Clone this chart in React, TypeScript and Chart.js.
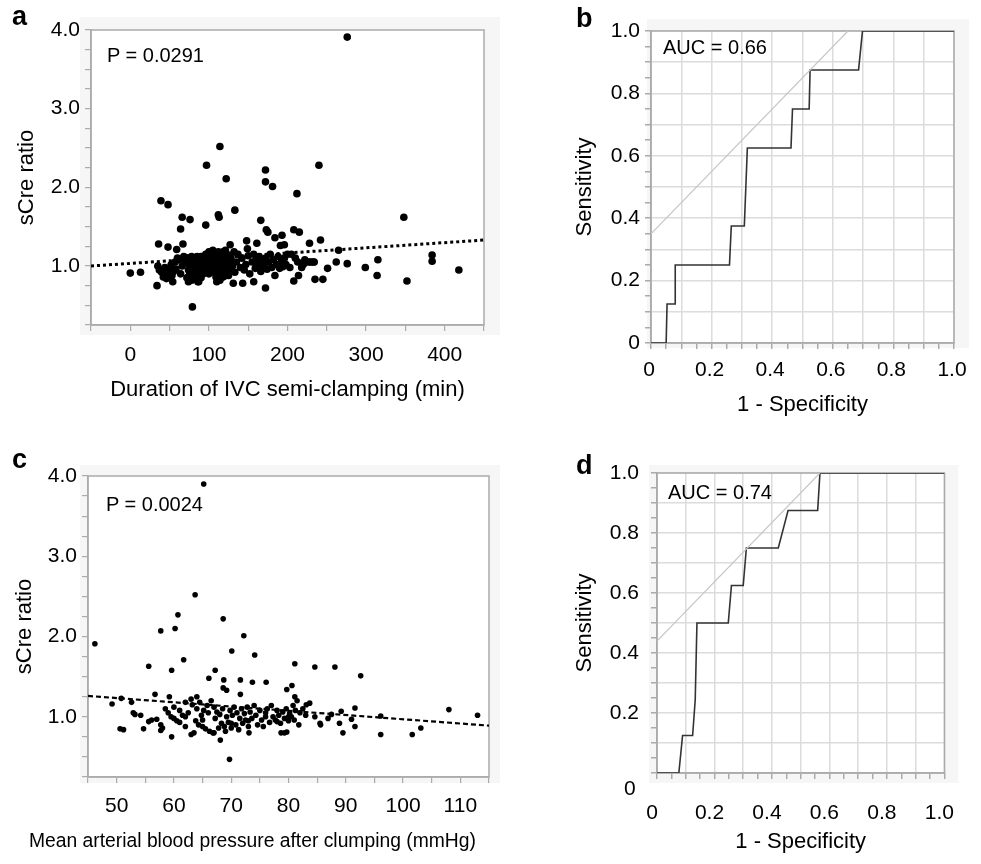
import React, { useEffect, useRef } from "react";
import { Chart, registerables } from "chart.js";

Chart.register(...registerables);

const FONT = '"Liberation Sans", Arial, Helvetica, sans-serif';
const AXIS_GRAY = "#ababab";
const GRID_GRAY = "#dcdcdc";
const PANEL_BG = "#f6f6f6";

// ---------- Panel a: duration of IVC semi-clamping vs sCre ratio ----------
const durationMin = [
  276, 114, 97, 122, 172, 172, 181, 240, 212, 39,
  48, 133, 66, 76, 112, 113, 348, 64, 96, 166,
  173, 175, 193, 184, 208, 215, 148, 242, 36, 48,
  67, 127, 149, 161, 196, 228, 265, 384, 384, 315,
  276, 299, 251, 262, 418, 352, 314, 0, 13, 34,
  79, 172, 131, 143, 157, 235, 245, 208, 214, 54,
  74, 86, 110, 59, 191, 228, 234,
  35, 37, 40, 42, 44, 46, 48, 50, 52, 53,
  55, 57, 58, 60, 62, 64, 66, 68, 70, 72,
  73, 74, 75, 76, 77, 78, 79, 80, 81, 82,
  83, 84, 85, 86, 87, 88, 89, 90, 92, 93,
  94, 95, 96, 97, 98, 99, 100, 101, 102, 103,
  104, 105, 106, 107, 108, 109, 110, 111, 112, 113,
  114, 115, 116, 117, 118, 119, 120, 121, 122, 124,
  125, 126, 128, 130, 132, 133, 135, 137, 140, 142,
  145, 147, 150, 152, 155, 157, 159, 160, 162, 164,
  166, 168, 170, 172, 174, 176, 178, 180, 182, 184,
  186, 188, 190, 192, 194, 196, 198, 200, 203, 205,
  210, 213, 218, 220, 222, 225, 230, 233,
  72, 75, 78, 80, 83, 85, 88, 90, 92, 95,
  98, 100, 103, 105, 108, 110, 112, 114, 116, 118,
  120, 123, 125, 128, 75, 80, 85, 90,
];
const sCreRatioA = [
  3.91, 2.52, 2.28, 2.11, 2.22, 2.07, 2.01, 2.28, 1.92, 1.83,
  1.78, 1.71, 1.62, 1.59, 1.65, 1.62, 1.62, 1.47, 1.52, 1.58,
  1.46, 1.43, 1.39, 1.36, 1.46, 1.43, 1.32, 1.33, 1.28, 1.24,
  1.28, 1.27, 1.22, 1.29, 1.27, 1.29, 1.2, 1.14, 1.06, 1.08,
  1.03, 0.98, 0.97, 1.05, 0.95, 0.81, 0.88, 0.91, 0.92, 0.75,
  0.48, 0.72, 0.78, 0.78, 0.8, 0.83, 0.83, 0.81, 0.88, 0.8,
  0.8, 0.8, 0.8, 1.21, 1.26, 1.05, 1.05,
  1.0, 0.95, 0.92, 0.86, 0.98, 0.84, 0.9, 0.95, 1.02, 0.88,
  0.93, 1.05, 0.96, 1.1, 1.08, 0.9, 1.0, 1.12, 1.06, 0.85,
  1.1, 0.95, 1.02, 1.08, 0.9, 0.82, 1.0, 1.05, 0.92, 1.1,
  0.86, 0.98, 1.03, 0.88, 0.8, 1.08, 0.95, 1.0, 1.12, 0.9,
  1.05, 0.97, 1.15, 1.08, 0.93, 1.02, 1.18, 0.98, 1.1, 0.92,
  1.05, 1.2, 0.96, 1.13, 1.0, 0.86, 1.08, 1.16, 0.95, 1.04,
  0.82, 1.12, 0.9, 1.0, 1.18, 0.94, 1.06, 1.2, 0.88, 1.02,
  1.14, 0.96, 1.1, 1.0, 1.18, 0.92, 1.05, 1.15, 0.98, 1.1,
  0.95, 1.02, 1.13, 0.9, 1.05, 1.15, 0.97, 1.08, 1.0, 1.12,
  0.93, 1.05, 1.0, 1.1, 0.96, 1.05, 1.15, 0.98, 1.08, 0.88,
  1.02, 1.12, 0.97, 1.05, 0.99, 1.1, 1.02, 1.15, 0.98, 1.15,
  1.1, 1.05, 0.98, 1.02, 1.08, 1.05, 1.05, 1.05,
  1.1, 0.88, 1.12, 0.85, 1.05, 0.92, 0.84, 1.12, 0.96, 1.05,
  1.12, 0.9, 1.15, 1.0, 1.1, 0.92, 1.18, 1.06, 1.15, 0.86,
  0.97, 1.1, 0.88, 1.02, 1.05, 0.96, 1.12, 0.85,
];
const trendAX = [-50, 450];
const trendAY = [1.0, 1.33];

// ---------- Panel c: MAP after clamping vs sCre ratio ----------
const mapMmHg = [
  65.2, 46.2, 63.7, 60.7, 68.6, 57.7, 60.2, 72.2, 70.1, 74.1,
  61.7, 55.6, 59.6, 67.2, 81.1, 84.6, 88.1, 92.6, 66.1, 68.7,
  71.6, 73.7, 76.1, 68.6, 69.2, 79.7, 80.6, 71.6, 56.7, 59.2,
  81.1, 49.2, 50.8, 52.6, 50.6, 51.2, 54.7, 52.9, 53.2, 54.2,
  55.6, 56.1, 57.7, 57.7, 59.6, 68.1, 69.7, 73.1, 96.1, 96.1,
  101.6, 103.1, 108, 113, 89.5, 91.6, 91.6, 89.2, 88.9, 91,
  86.9, 87.5, 85.5, 85.6, 84.6, 83.7, 83.1, 78.7, 79.3, 79.7,
  59, 59.5, 60, 60.5, 61, 61, 61.5, 62, 62, 62.5,
  63, 63, 63.2, 63.5, 63.8, 64, 64, 64.3, 64.5, 64.8,
  65, 65.2, 65.5, 65.8, 66, 66.2, 66.5, 66.8, 67, 67.2,
  67.5, 67.8, 68, 68.3, 68.5, 68.8, 69, 69.2, 69.5, 69.8,
  70, 70.2, 70.5, 70.8, 71, 71.3, 71.5, 71.8, 72, 72.3,
  72.5, 72.8, 73, 73.3, 73.6, 74, 74.3, 74.6, 75, 75.3,
  75.6, 76, 76.3, 76.7, 77, 77.3, 77.7, 78, 78.3, 78.6,
  79, 79.3, 79.6, 80, 80.2, 80.5, 80.8, 81, 81.2, 81.5,
  81.8, 82, 82.5, 83, 57, 58, 58.5, 60, 62, 65,
  67, 70, 73, 76, 78, 80,
];
const sCreRatioC = [
  3.9, 1.91, 2.52, 2.27, 2.22, 2.07, 2.1, 2.01, 1.82, 1.77,
  1.71, 1.63, 1.58, 1.58, 1.66, 1.62, 1.62, 1.51, 1.48, 1.46,
  1.46, 1.43, 1.43, 1.36, 1.33, 1.34, 1.39, 1.28, 1.28, 1.25,
  1.25, 1.16, 1.23, 1.18, 0.85, 0.84, 0.85, 1.05, 1.03, 1.02,
  0.94, 0.96, 0.9, 0.83, 0.75, 0.71, 0.47, 0.8, 1.01, 0.78,
  0.78, 0.86, 1.09, 1.02, 0.8, 1.11, 0.88, 1.07, 0.92, 0.97,
  0.98, 1.03, 0.92, 0.9, 1.0, 1.17, 1.15, 0.8, 0.8, 0.81,
  1.05, 1.0, 1.12, 0.95, 1.08, 0.93, 1.02, 1.18, 0.88, 1.05,
  0.78, 1.22, 1.15, 0.8, 0.95, 1.25, 1.1, 0.9, 1.18, 1.02,
  0.88, 1.08, 0.85, 1.14, 1.05, 0.82, 1.2, 0.8, 1.12, 0.98,
  1.06, 0.86, 1.03, 0.92, 1.1, 0.88, 0.82, 1.0, 0.93, 1.08,
  0.86, 1.02, 1.12, 0.9, 1.05, 0.84, 0.98, 1.1, 0.92, 1.04,
  0.96, 1.12, 0.88, 1.06, 0.98, 1.14, 1.02, 0.9, 1.08, 0.96,
  0.88, 1.05, 1.1, 0.93, 1.14, 1.0, 0.96, 1.08, 1.02, 0.92,
  1.06, 0.98, 1.1, 0.95, 1.04, 1.0, 1.14, 0.96, 1.08, 1.2,
  0.9, 1.05, 1.1, 1.02, 0.97, 0.86, 1.1, 0.98, 1.0, 0.96,
  0.8, 0.92, 0.95, 1.0, 0.94, 1.0,
];
const trendCX = [45, 115];
const trendCY = [1.26, 0.89];

// ---------- Panel b: ROC (AUC 0.66) ----------
const rocBFpr = [0, 0.05, 0.053, 0.08, 0.08, 0.259, 0.265, 0.308, 0.318, 0.462, 0.467, 0.522, 0.525, 0.685, 0.698, 1.0];
const rocBTpr = [0, 0, 0.125, 0.125, 0.25, 0.25, 0.375, 0.375, 0.625, 0.625, 0.75, 0.75, 0.875, 0.875, 1.0, 1.0];
const tangentBX = [0, 0.65];
const tangentBY = [0.35, 1.0];

// ---------- Panel d: ROC (AUC 0.74) ----------
const rocDFpr = [0, 0.076, 0.089, 0.124, 0.133, 0.139, 0.248, 0.259, 0.3, 0.311, 0.422, 0.456, 0.559, 0.567, 1.0];
const rocDTpr = [0, 0, 0.125, 0.125, 0.244, 0.5, 0.5, 0.625, 0.625, 0.75, 0.75, 0.875, 0.875, 1.0, 1.0];
const tangentDX = [0, 0.567];
const tangentDY = [0.44, 1.0];

// ---------- helpers ----------
const pts = (xs: number[], ys: number[]) =>
  xs.slice(0, Math.min(xs.length, ys.length)).map((x, i) => ({ x, y: ys[i] }));
const isMult = (v: number, step: number) => Math.abs(v / step - Math.round(v / step)) < 1e-6;
const tickFont = { family: FONT, size: 21 };
const titleFont = { family: FONT, size: 22 };

const framePlugin = {
  id: "panelFrame",
  beforeDraw(chart: any, _args: any, opts: any) {
    const { ctx, chartArea: ca } = chart;
    ctx.save();
    ctx.fillStyle = PANEL_BG;
    ctx.fillRect(ca.left - opts.l, ca.top - opts.t, ca.width + opts.l + opts.r, ca.height + opts.t + opts.b);
    ctx.fillStyle = "#ffffff";
    ctx.fillRect(ca.left, ca.top, ca.width, ca.height);
    ctx.restore();
  },
  beforeDatasetsDraw(chart: any) {
    const { ctx, chartArea: ca } = chart;
    ctx.save();
    ctx.strokeStyle = AXIS_GRAY;
    ctx.lineWidth = 1.5;
    ctx.strokeRect(ca.left, ca.top, ca.width, ca.height);
    ctx.restore();
  },
};

type ScatterSpec = {
  xs: number[]; ys: number[]; tx: number[]; ty: number[];
  xMin: number; xMax: number; xStep: number; xLabelStep: number;
  radius: number; dash: number[]; dashWidth: number;
  yWidth: number; xHeight: number; padding: any; bg: any;
  xTitle?: string; yTitlePad: number; xTickPad: number; yTickPad: number;
};

function scatterConfig(s: ScatterSpec): any {
  return {
    type: "scatter",
    data: {
      datasets: [
        {
          data: pts(s.xs, s.ys),
          pointRadius: s.radius,
          pointBackgroundColor: "#000",
          pointBorderWidth: 0,
          showLine: false,
        },
        {
          data: pts(s.tx, s.ty),
          showLine: true,
          pointRadius: 0,
          borderColor: "#000",
          borderWidth: s.dashWidth,
          borderDash: s.dash,
        },
      ],
    },
    options: {
      responsive: false,
      animation: false,
      events: [],
      layout: { padding: s.padding },
      plugins: { legend: { display: false }, tooltip: { enabled: false }, panelFrame: s.bg },
      scales: {
        x: {
          type: "linear",
          min: s.xMin,
          max: s.xMax,
          afterFit: (sc: any) => { sc.height = s.xHeight; },
          ticks: {
            stepSize: s.xStep, autoSkip: false, maxRotation: 0, maxTicksLimit: 200,
            padding: s.xTickPad, color: "#000", font: tickFont,
            callback: (v: number) => (isMult(v, s.xLabelStep) ? String(Math.round(v)) : ""),
          },
          grid: { drawOnChartArea: false, drawTicks: true, tickLength: 6, color: AXIS_GRAY, tickColor: AXIS_GRAY, lineWidth: 1.2 },
          border: { display: true, color: AXIS_GRAY, width: 1.5 },
          title: s.xTitle
            ? { display: true, text: s.xTitle, color: "#000", font: titleFont, padding: { top: 0, bottom: 4 } }
            : { display: false },
        },
        y: {
          type: "linear",
          min: 0.25,
          max: 4,
          afterFit: (sc: any) => { sc.width = s.yWidth; },
          ticks: {
            stepSize: 0.25, autoSkip: false, maxTicksLimit: 200,
            padding: s.yTickPad, color: "#000", font: tickFont,
            callback: (v: number) => (isMult(v, 1) ? v.toFixed(1) : ""),
          },
          grid: { drawOnChartArea: false, drawTicks: true, tickLength: 6, color: AXIS_GRAY, tickColor: AXIS_GRAY, lineWidth: 1.2 },
          border: { display: true, color: AXIS_GRAY, width: 1.5 },
          title: { display: true, text: "sCre ratio", color: "#000", font: titleFont, padding: { top: s.yTitlePad, bottom: 0 } },
        },
      },
    },
    plugins: [framePlugin],
  };
}

type RocSpec = {
  fpr: number[]; tpr: number[]; tx: number[]; ty: number[];
  yWidth: number; xHeight: number; padding: any; bg: any;
  xTickPad: number; yTickPad: number; xLabelOffset: number; hideYZero: boolean;
};

function rocConfig(s: RocSpec): any {
  const gridColor = (ctx: any) =>
    ctx.tick && isMult(ctx.tick.value, 0.1) ? GRID_GRAY : "rgba(0,0,0,0)";
  const axisLabel = (v: number) => {
    if (!isMult(v, 0.2)) return "";
    if (Math.abs(v) < 1e-9) return "0";
    return v.toFixed(1);
  };
  return {
    type: "scatter",
    data: {
      datasets: [
        {
          data: pts(s.tx, s.ty),
          showLine: true,
          pointRadius: 0,
          borderColor: "#c6c6c6",
          borderWidth: 1.2,
        },
        {
          data: pts(s.fpr, s.tpr),
          showLine: true,
          pointRadius: 0,
          borderColor: "#333",
          borderWidth: 1.6,
        },
      ],
    },
    options: {
      responsive: false,
      animation: false,
      events: [],
      layout: { padding: s.padding },
      plugins: { legend: { display: false }, tooltip: { enabled: false }, panelFrame: s.bg },
      scales: {
        x: {
          type: "linear",
          min: 0,
          max: 1,
          afterFit: (sc: any) => { sc.height = s.xHeight; },
          ticks: {
            stepSize: 0.05, autoSkip: false, maxRotation: 0, maxTicksLimit: 200,
            padding: s.xTickPad, labelOffset: s.xLabelOffset, color: "#000", font: tickFont,
            callback: (v: number) => axisLabel(v),
          },
          grid: { drawOnChartArea: true, drawTicks: true, tickLength: 6, color: gridColor, tickColor: AXIS_GRAY, lineWidth: 1.5 },
          border: { display: true, color: AXIS_GRAY, width: 1.5 },
          title: { display: true, text: "1 - Specificity", color: "#000", font: titleFont, padding: { top: 0, bottom: 4 } },
        },
        y: {
          type: "linear",
          min: 0,
          max: 1,
          afterFit: (sc: any) => { sc.width = s.yWidth; },
          ticks: {
            stepSize: 0.05, autoSkip: false, maxTicksLimit: 200,
            padding: s.yTickPad, color: "#000", font: tickFont,
            callback: (v: number) => (s.hideYZero && Math.abs(v) < 1e-9 ? "" : axisLabel(v)),
          },
          grid: { drawOnChartArea: true, drawTicks: true, tickLength: 6, color: gridColor, tickColor: AXIS_GRAY, lineWidth: 1.5 },
          border: { display: true, color: AXIS_GRAY, width: 1.5 },
          title: { display: true, text: "Sensitivity", color: "#000", font: titleFont, padding: { top: 7, bottom: 0 } },
        },
      },
    },
    plugins: [framePlugin],
  };
}

function PanelCanvas(props: { left: number; top: number; width: number; height: number; make: () => any }) {
  const ref = useRef<HTMLCanvasElement | null>(null);
  useEffect(() => {
    if (!ref.current) return;
    const chart = new Chart(ref.current, props.make());
    return () => chart.destroy();
  }, []);
  return (
    <canvas
      ref={ref}
      width={props.width}
      height={props.height}
      style={{ position: "absolute", left: props.left, top: props.top, width: props.width, height: props.height, display: "block" }}
    />
  );
}

function Txt(props: { x: number; baseline: number; size: number; bold?: boolean; children: React.ReactNode }) {
  return (
    <div
      style={{
        position: "absolute",
        left: props.x,
        top: props.baseline - 0.8465 * props.size,
        fontFamily: FONT,
        fontSize: props.size,
        lineHeight: `${props.size}px`,
        fontWeight: props.bold ? 700 : 400,
        color: "#000",
        whiteSpace: "nowrap",
      }}
    >
      {props.children}
    </div>
  );
}

export default function App() {
  return (
    <div style={{ position: "absolute", left: 0, top: 0, width: 981, height: 864, background: "#fff", overflow: "hidden" }}>
      <PanelCanvas
        left={0} top={0} width={500} height={407}
        make={() =>
          scatterConfig({
            xs: durationMin, ys: sCreRatioA, tx: trendAX, ty: trendAY,
            xMin: -50, xMax: 450, xStep: 50, xLabelStep: 100,
            radius: 3.8, dash: [3, 3], dashWidth: 3,
            yWidth: 91, xHeight: 82,
            padding: { left: 0, top: 30, right: 16, bottom: 0 },
            bg: { l: 11, t: 13, r: 16, b: 10 },
            xTitle: "Duration of IVC semi-clamping (min)",
            yTitlePad: 14, xTickPad: 12, yTickPad: 5,
          })
        }
      />
      <PanelCanvas
        left={565} top={0} width={416} height={422}
        make={() =>
          rocConfig({
            fpr: rocBFpr, tpr: rocBTpr, tx: tangentBX, ty: tangentBY,
            yWidth: 86, xHeight: 79,
            padding: { left: 0, top: 31, right: 27, bottom: 0 },
            bg: { l: 4, t: 12, r: 15, b: 5 },
            xTickPad: 9, yTickPad: 5, xLabelOffset: -2, hideYZero: false,
          })
        }
      />
      <PanelCanvas
        left={0} top={430} width={510} height={427}
        make={() =>
          scatterConfig({
            xs: mapMmHg, ys: sCreRatioC, tx: trendCX, ty: trendCY,
            xMin: 45, xMax: 115, xStep: 5, xLabelStep: 10,
            radius: 2.8, dash: [5, 3], dashWidth: 2.2,
            yWidth: 88, xHeight: 80,
            padding: { left: 0, top: 46, right: 21, bottom: 0 },
            bg: { l: 8, t: 11, r: 11, b: 6 },
            yTitlePad: 12, xTickPad: 11, yTickPad: 5,
          })
        }
      />
      <PanelCanvas
        left={565} top={430} width={416} height={429}
        make={() =>
          rocConfig({
            fpr: rocDFpr, tpr: rocDTpr, tx: tangentDX, ty: tangentDY,
            yWidth: 92, xHeight: 86,
            padding: { left: 0, top: 43, right: 24, bottom: 0 },
            bg: { l: 8, t: 8, r: 14, b: 10 },
            xTickPad: 22, yTickPad: 12, xLabelOffset: -5, hideYZero: true,
          })
        }
      />
      <Txt x={12} baseline={26} size={27} bold>a</Txt>
      <Txt x={576} baseline={28} size={27} bold>b</Txt>
      <Txt x={12} baseline={469} size={27} bold>c</Txt>
      <Txt x={576} baseline={475} size={27} bold>d</Txt>
      <Txt x={107} baseline={62} size={20}>P = 0.0291</Txt>
      <Txt x={106} baseline={511} size={20}>P = 0.0024</Txt>
      <Txt x={663} baseline={54} size={20}>AUC = 0.66</Txt>
      <Txt x={668} baseline={499} size={20}>AUC = 0.74</Txt>
      <Txt x={624} baseline={795} size={21}>0</Txt>
      <Txt x={29} baseline={847} size={19.3}>Mean arterial blood pressure after clumping (mmHg)</Txt>
    </div>
  );
}
